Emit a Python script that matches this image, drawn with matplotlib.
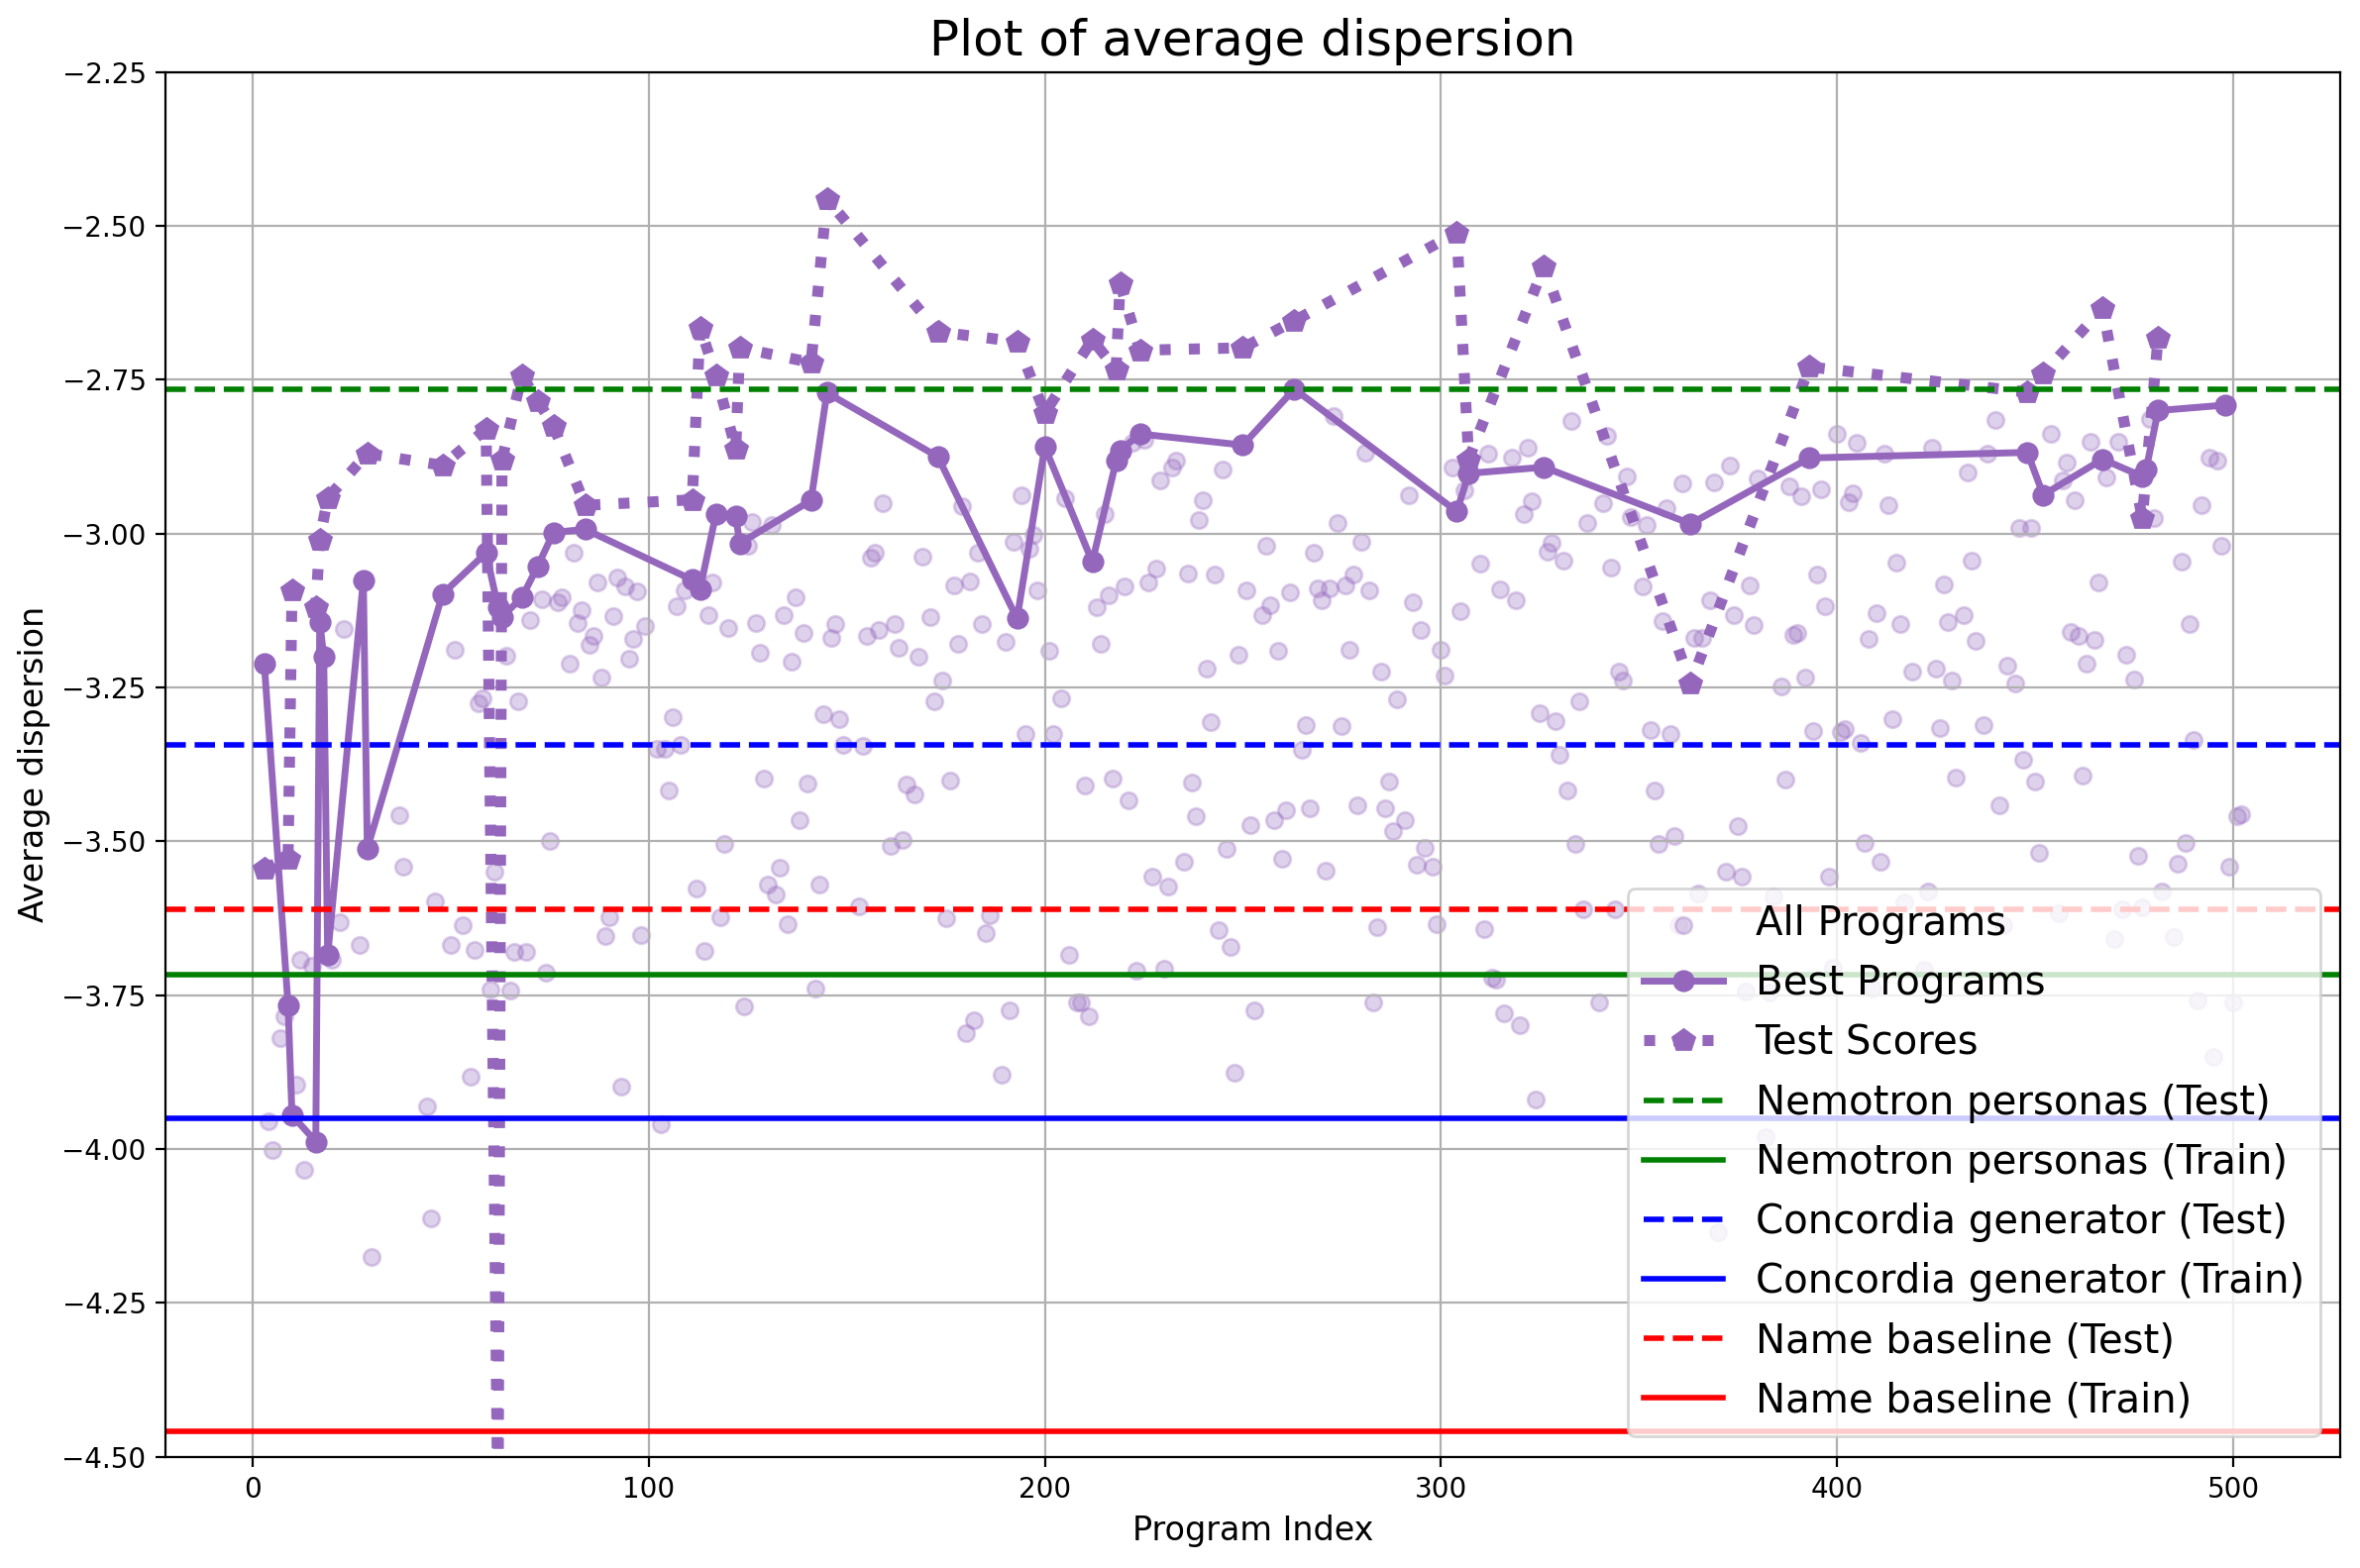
import matplotlib
matplotlib.use("Agg")
import matplotlib.pyplot as plt
import numpy as np

# Every evaluated program (best programs are added below)
program_idx = [
    4, 5, 7, 8, 11, 12, 13, 15, 20, 22, 23, 27, 30, 37, 38, 44, 45, 46, 50, 51,
    53, 55, 56, 57, 58, 60, 61, 64, 65, 66, 67, 69, 70,
    73, 74, 75, 77, 78, 80, 81, 82, 83, 85, 86, 87, 88, 89, 90, 91, 92,
    93, 94, 95, 96, 97, 98, 99, 102, 103, 104, 105, 106, 107, 108, 109, 112, 114, 115, 116, 118,
    119, 120, 124, 125, 126, 127, 128, 129, 130, 131, 132, 133, 134, 135, 136, 137, 138, 139, 140, 142,
    143, 144,
    146, 147, 148, 149, 153, 154, 155, 156, 157, 158, 159, 161, 162, 163, 164, 165, 167, 168, 169, 171,
    172, 174, 175, 176, 177, 178, 179, 180, 181, 182, 183, 184, 185, 186, 189, 190, 191, 192, 194, 195,
    196, 197, 198, 201, 202, 204, 205, 206, 208, 209, 210, 211, 213, 214, 215, 216, 217,
    220, 221, 222, 223, 225, 226, 227, 228, 229, 230, 231, 232, 233, 235, 236, 237, 238, 239, 240, 241,
    242, 243, 244, 245, 246, 247, 248, 249, 251, 252, 253, 255, 256, 257, 258, 259, 260, 261, 262, 265,
    266, 267, 268, 269, 270, 271, 272, 273, 274, 275, 276, 277, 278, 279, 280, 281, 282, 283, 284, 285,
    286, 287, 288, 289,
    291, 292, 293, 294, 295, 296, 298, 299, 300, 301, 303, 305, 306, 310, 311, 312, 313, 314, 315, 316,
    318, 319, 320, 321, 322, 323, 324, 325, 327, 328, 329, 330, 331, 332, 333, 334, 335, 336, 337, 340,
    341, 342, 343, 344, 345, 346, 347, 348, 351, 352, 353, 354, 355, 356, 357, 358, 359, 360, 361,
    364, 365, 366, 368, 369, 370, 372, 373, 374, 375, 376, 377, 378, 379, 380, 382, 383, 384, 386, 387,
    388, 389, 390, 391, 392, 394, 395, 396, 397, 398, 399, 400, 401, 402, 403, 404, 405, 406, 407, 408,
    409, 410, 411, 412, 413, 414, 415, 416, 417, 419, 422, 423, 424, 425, 426, 427, 428, 429, 430, 432,
    433, 434, 435,
    437, 438, 440, 441, 442, 443, 445, 446, 447, 449, 450, 451, 454, 456, 457, 458, 459, 460, 461, 462,
    463, 464, 465, 466, 468, 470, 471, 472, 473, 475, 476, 477, 479, 480, 482, 485, 486, 487, 488, 489,
    490, 491, 492, 494, 495, 496, 497, 499, 500, 501, 502,
]
program_score = [
    -3.955, -4.001, -3.820, -3.784, -3.896, -3.692, -4.034, -3.703, -3.692, -3.632, -3.155, -3.668, -4.176, -3.457, -3.541, -3.931, -4.112, -3.598, -3.669, -3.189,
    -3.637, -3.883, -3.676, -3.275, -3.268, -3.741, -3.550, -3.198, -3.743, -3.679, -3.272, -3.679, -3.140,
    -3.106, -3.714, -3.500, -3.111, -3.104, -3.211, -3.031, -3.145, -3.124, -3.181, -3.167, -3.079, -3.234, -3.654, -3.624, -3.134, -3.072,
    -3.898, -3.085, -3.203, -3.171, -3.094, -3.653, -3.150, -3.350, -3.960, -3.349, -3.417, -3.299, -3.118, -3.343, -3.092, -3.576, -3.678, -3.132, -3.079, -3.623,
    -3.505, -3.153, -3.769, -3.019, -2.981, -3.145, -3.193, -3.398, -3.571, -2.986, -3.586, -3.543, -3.132, -3.635, -3.208, -3.104, -3.465, -3.162, -3.406, -3.740,
    -3.571, -3.293,
    -3.169, -3.147, -3.302, -3.343, -3.606, -3.345, -3.166, -3.039, -3.031, -3.157, -2.950, -3.507, -3.147, -3.186, -3.497, -3.407, -3.423, -3.200, -3.037, -3.135,
    -3.272, -3.239, -3.625, -3.401, -3.084, -3.179, -2.955, -3.811, -3.077, -3.791, -3.031, -3.147, -3.649, -3.620, -3.880, -3.176, -3.774, -3.013, -2.937, -3.325,
    -3.024, -3.002, -3.092, -3.190, -3.326, -3.268, -2.942, -3.685, -3.762, -3.761, -3.410, -3.785, -3.119, -3.179, -2.968, -3.101, -3.398,
    -3.085, -3.434, -2.853, -3.711, -2.848, -3.079, -3.557, -3.056, -2.913, -3.707, -3.574, -2.892, -2.881, -3.534, -3.065, -3.404, -3.459, -2.978, -2.945, -3.219,
    -3.306, -3.066, -3.645, -2.896, -3.512, -3.671, -3.876, -3.196, -3.092, -3.473, -3.774, -3.133, -3.019, -3.116, -3.466, -3.190, -3.529, -3.449, -3.095, -3.352,
    -3.311, -3.447, -3.031, -3.089, -3.109, -3.548, -3.089, -2.809, -2.983, -3.312, -3.084, -3.188, -3.066, -3.442, -3.013, -2.868, -3.092, -3.762, -3.639, -3.224,
    -3.446, -3.403, -3.483, -3.270,
    -3.465, -2.937, -3.111, -3.538, -3.157, -3.510, -3.541, -3.634, -3.188, -3.230, -2.892, -3.126, -2.930, -3.048, -3.642, -2.870, -3.721, -3.724, -3.090, -3.780,
    -2.877, -3.108, -3.799, -2.969, -2.860, -2.947, -3.920, -3.292, -3.029, -3.015, -3.304, -3.359, -3.044, -3.418, -2.817, -3.504, -3.273, -3.611, -2.983, -3.762,
    -2.950, -2.841, -3.055, -3.611, -3.224, -3.239, -2.907, -2.973, -3.085, -2.986, -3.319, -3.417, -3.505, -3.142, -2.959, -3.326, -3.492, -3.637, -2.918,
    -3.169, -3.584, -3.169, -3.109, -2.916, -4.135, -3.550, -2.889, -3.133, -3.475, -3.558, -3.744, -3.084, -3.148, -2.910, -3.981, -3.746, -3.589, -3.248, -3.399,
    -2.923, -3.164, -3.161, -2.940, -3.234, -3.321, -3.066, -2.928, -3.118, -3.558, -3.705, -2.838, -3.323, -3.317, -2.949, -2.935, -2.853, -3.340, -3.502, -3.171,
    -3.740, -3.129, -3.533, -2.870, -2.954, -3.302, -3.047, -3.147, -3.600, -3.224, -3.709, -3.582, -2.860, -3.219, -3.316, -3.082, -3.143, -3.238, -3.396, -3.132,
    -2.901, -3.044, -3.174,
    -3.311, -2.870, -2.815, -3.441, -3.637, -3.215, -3.244, -2.990, -3.367, -2.990, -3.403, -3.519, -2.838, -3.617, -2.913, -2.884, -3.159, -2.945, -3.166, -3.393,
    -3.212, -2.851, -3.172, -3.079, -2.908, -3.658, -2.851, -3.610, -3.196, -3.237, -3.524, -3.607, -2.814, -2.974, -3.582, -3.656, -3.536, -3.046, -3.502, -3.147,
    -3.335, -3.758, -2.954, -2.877, -3.851, -2.882, -3.019, -3.541, -3.762, -3.459, -3.456,
]

# Best programs found so far
best_idx = [3, 9, 10, 16, 17, 18, 19, 28, 29, 48, 59, 62, 63, 68, 72, 76, 84, 111, 113, 117,
            122, 123, 141, 145, 173, 193, 200, 212, 218, 219, 224, 250, 263, 304, 307, 326, 363, 393,
            448, 452, 467, 477, 478, 481, 498]
best_score = [-3.211, -3.766, -3.945, -3.988, -3.143, -3.200, -3.685, -3.076, -3.512, -3.098,
              -3.031, -3.120, -3.135, -3.104, -3.053, -2.998, -2.993, -3.075, -3.090, -2.968,
              -2.971, -3.016, -2.946, -2.771, -2.875, -3.138, -2.859, -3.046, -2.882, -2.865,
              -2.838, -2.856, -2.765, -2.964, -2.902, -2.892, -2.984, -2.877,
              -2.868, -2.937, -2.879, -2.907, -2.895, -2.800, -2.791]

# Test scores of the best programs
test_idx = [3, 9, 10, 16, 17, 19, 29, 48, 59, 62, 63, 68, 72, 76, 84, 111, 113, 117, 122, 123,
            141, 145, 173, 193, 200, 212, 218, 219, 224, 250, 263, 304, 307, 326, 363, 393,
            448, 452, 467, 477, 481]
test_score = [-3.544, -3.528, -3.092, -3.119, -3.010, -2.942, -2.870, -2.889, -2.830, -4.620,
              -2.880, -2.743, -2.784, -2.825, -2.954, -2.945, -2.665, -2.743, -2.862, -2.698,
              -2.722, -2.456, -2.672, -2.688, -2.804, -2.685, -2.733, -2.593, -2.702, -2.698,
              -2.654, -2.511, -2.879, -2.565, -3.244, -2.729,
              -2.770, -2.740, -2.634, -2.975, -2.681]

# Baselines
baseline_names = ["Nemotron personas", "Concordia generator", "Name baseline"]
baseline_colors = ["green", "blue", "red"]
baseline_test = [-2.766, -3.343, -3.610]
baseline_train = [-3.717, -3.950, -4.458]

purple = "#9467bd"

fig = plt.figure(figsize=(11.91, 7.915), dpi=200)
ax = fig.add_axes([0.0701, 0.071, 0.9215, 0.883])

all_x = program_idx + best_idx
all_y = program_score + best_score
ax.scatter(all_x, all_y, color=purple, alpha=0.3, label="All Programs")
ax.plot(best_idx, best_score, color=purple, marker="o", linewidth=2.5, markersize=7,
        label="Best Programs")
ax.plot(test_idx, test_score, color=purple, marker="p", linestyle=":", linewidth=4,
        markersize=8, label="Test Scores")

for name, c, te, tr in zip(baseline_names, baseline_colors, baseline_test, baseline_train):
    ax.axhline(te, color=c, linestyle="--", linewidth=2, label=name + " (Test)")
    ax.axhline(tr, color=c, linestyle="-", linewidth=2, label=name + " (Train)")

ax.set_ylim(-4.5, -2.25)
ax.set_yticks(np.arange(-4.5, -2.24, 0.25))
ax.set_xlabel("Program Index", fontsize=12)
ax.set_ylabel("Average dispersion", fontsize=12)
ax.set_title("Plot of average dispersion", fontsize=18)
ax.grid(True)
ax.legend(loc="lower right", fontsize=14.5)

fig.savefig("out.png", dpi=200)
